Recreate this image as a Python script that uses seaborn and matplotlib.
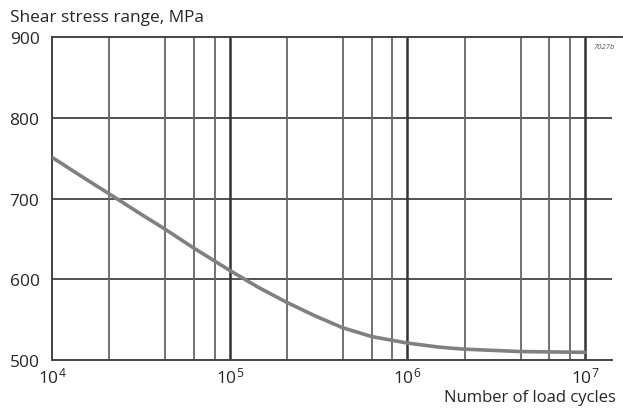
import numpy as np
import pandas as pd
import seaborn as sns
import matplotlib.pyplot as plt
from matplotlib.lines import Line2D

# curve
cycles = [1e4, 1.5e4, 2.27e4, 3.2e4, 4.33e4, 6.24e4, 1e5, 1.45e5, 2.07e5, 3e5,
          4.32e5, 6.3e5, 1e6, 1.5e6, 2.05e6, 4.3e6, 1e7]
stress = [751, 726, 701, 680, 662, 639, 611, 590, 572, 555,
          540, 529, 521, 516, 513.5, 510.5, 509.5]

major_ticks = [1e4, 1e5, 1e6, 1e7]
major_labels = ['$10^{4}$', '$10^{5}$', '$10^{6}$', '$10^{7}$']
minor_mult = [2.1, 4.35, 6.3, 8.25]
y_ticks = [500, 600, 700, 800, 900]

sns.set_style("white")
plt.rcParams['font.family'] = ['Open Sans', 'DejaVu Sans']
plt.rcParams['mathtext.fontset'] = 'custom'
plt.rcParams['mathtext.rm'] = 'Open Sans'
plt.rcParams['mathtext.it'] = 'Open Sans'

df = pd.DataFrame({'cycles': cycles, 'stress': stress})

fig = plt.figure(figsize=(6.23, 4.10), dpi=100)
ax = fig.add_axes([0.0835, 0.1195, 0.8989, 0.7878])

for y in y_ticks[1:-1]:
    ax.axhline(y, color='#444444', lw=1.3, zorder=1)
for m in major_ticks[1:]:
    ax.axvline(m, color='#333333', lw=1.8, zorder=1)
for dec in major_ticks[:-1]:
    for k in minor_mult:
        ax.axvline(dec * k, color='#666666', lw=1.3, zorder=1)

sns.lineplot(data=df, x='cycles', y='stress', ax=ax, color='#808080', lw=2.6, zorder=3)

ax.set_xscale('log')
ax.set_xlim(1e4, 1.42e7)
ax.set_ylim(500, 900)
ax.set_xticks(major_ticks)
ax.set_xticklabels(major_labels, fontsize=12.5)
ax.xaxis.set_minor_locator(plt.NullLocator())
ax.set_yticks(y_ticks)
ax.set_yticklabels([str(v) for v in y_ticks], fontsize=12.5)
ax.tick_params(axis='x', length=0, pad=5)
ax.tick_params(axis='y', length=0, pad=9)
ax.set_xlabel('')
ax.set_ylabel('')

for s in ['top', 'left', 'bottom']:
    ax.spines[s].set_color('#444444')
    ax.spines[s].set_linewidth(1.4)
ax.spines['right'].set_visible(False)

# top frame line runs on to the edge of the picture
fig.add_artist(Line2D([0.98, 1.0], [0.9073, 0.9073], color='#444444', lw=1.4))

fig.text(0.016, 0.956, 'Shear stress range, MPa', fontsize=12.4, ha='left', va='center')
fig.text(0.988, 0.029, 'Number of load cycles', fontsize=12, ha='right', va='center')
fig.text(0.952, 0.885, '7027b', fontsize=5.5, style='italic', color='#555555', ha='left', va='center')

fig.savefig('out.png', dpi=100)
